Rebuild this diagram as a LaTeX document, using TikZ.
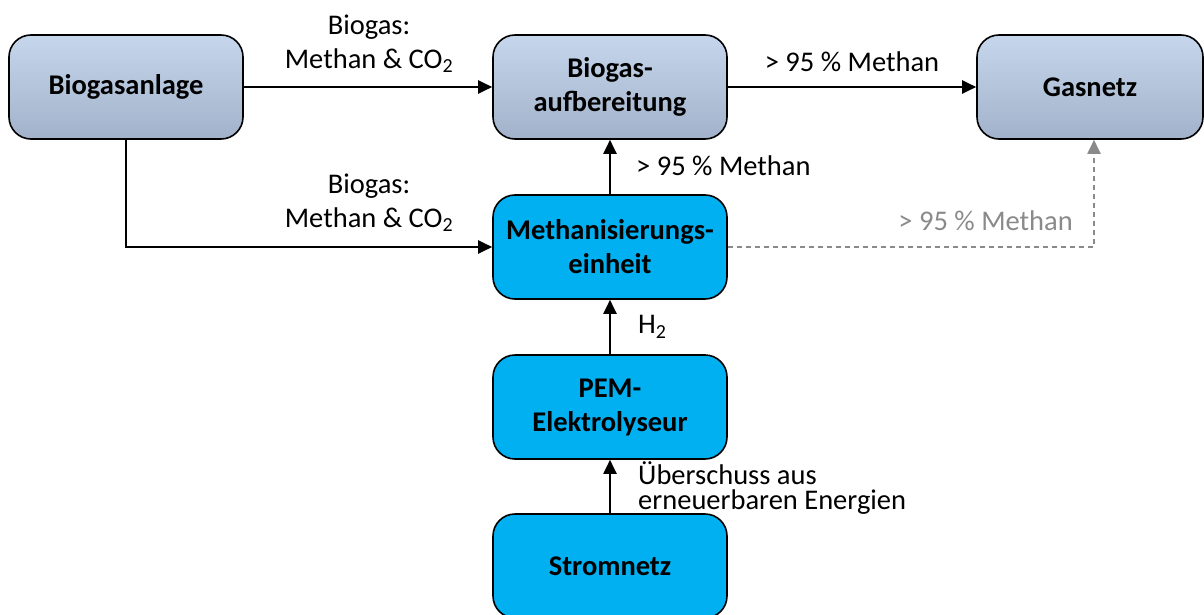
\documentclass[tikz,border=0pt]{standalone}
\usepackage{fontspec}
\setmainfont{Carlito}
\usetikzlibrary{arrows.meta}
\definecolor{cyanbox}{HTML}{00B0F0}
\definecolor{gtop}{HTML}{C6D6EC}
\definecolor{gbot}{HTML}{A2B2CA}
\definecolor{dgray}{HTML}{8A8A8A}
\begin{document}
\begin{tikzpicture}[x=1pt,y=-1pt,
 box/.style={draw=black, line width=1.6pt, rounded corners=22pt, minimum width=234pt, minimum height=104pt, align=center, inner sep=0pt, font=\fontsize{28.5}{34}\selectfont\bfseries},
 gbox/.style={box, top color=gtop, bottom color=gbot},
 cbox/.style={box, fill=cyanbox},
 arr/.style={line width=2pt, -{Triangle[length=14pt,width=13pt]}},
 lbl/.style={font=\fontsize{28.5}{34}\selectfont, align=center, inner sep=0pt}]
\useasboundingbox (0,0) rectangle (1204,615);
\node[gbox] (anlage) at (126,87) {Biogasanlage};
\node[gbox] (aufb) at (610,87) {Biogas-\\aufbereitung};
\node[gbox, minimum width=226pt] (netz) at (1090,87) {Gasnetz};
\node[cbox] (meth) at (610,247) {Methanisierungs-\\einheit};
\node[cbox] (pem) at (610,407) {PEM-\\Elektrolyseur};
\node[cbox] (strom) at (610,566) {Stromnetz};

\draw[arr] (anlage) -- (aufb);
\draw[arr] (aufb) -- (netz);
\draw[arr] (anlage.south) |- (meth.west);
\draw[arr] (meth) -- (aufb);
\draw[arr] (pem) -- (meth);
\draw[arr] (strom) -- (pem);
\draw[arr, color=dgray, dash pattern=on 5pt off 4pt] (meth.east) -| ([xshift=4pt]netz.south);

\node[lbl] (l1) at (369,44) {Biogas:\\Methan \& CO\textsubscript{2}};
\node[lbl] (l2) at (369,203) {Biogas:\\Methan \& CO\textsubscript{2}};
\node[lbl] (l3) at (852,62) {> 95 \% Methan};
\node[lbl, anchor=west] (l4) at (636,166) {> 95 \% Methan};
\node[lbl, anchor=east, text=dgray] (l5) at (1073,221) {> 95 \% Methan};
\node[lbl, anchor=west] (l6) at (638,327) {H\textsubscript{2}};
\node[lbl, anchor=west, align=left, font=\fontsize{28.5}{25}\selectfont] (l7) at (638,488) {Überschuss aus\\erneuerbaren Energien};
\end{tikzpicture}
\end{document}
